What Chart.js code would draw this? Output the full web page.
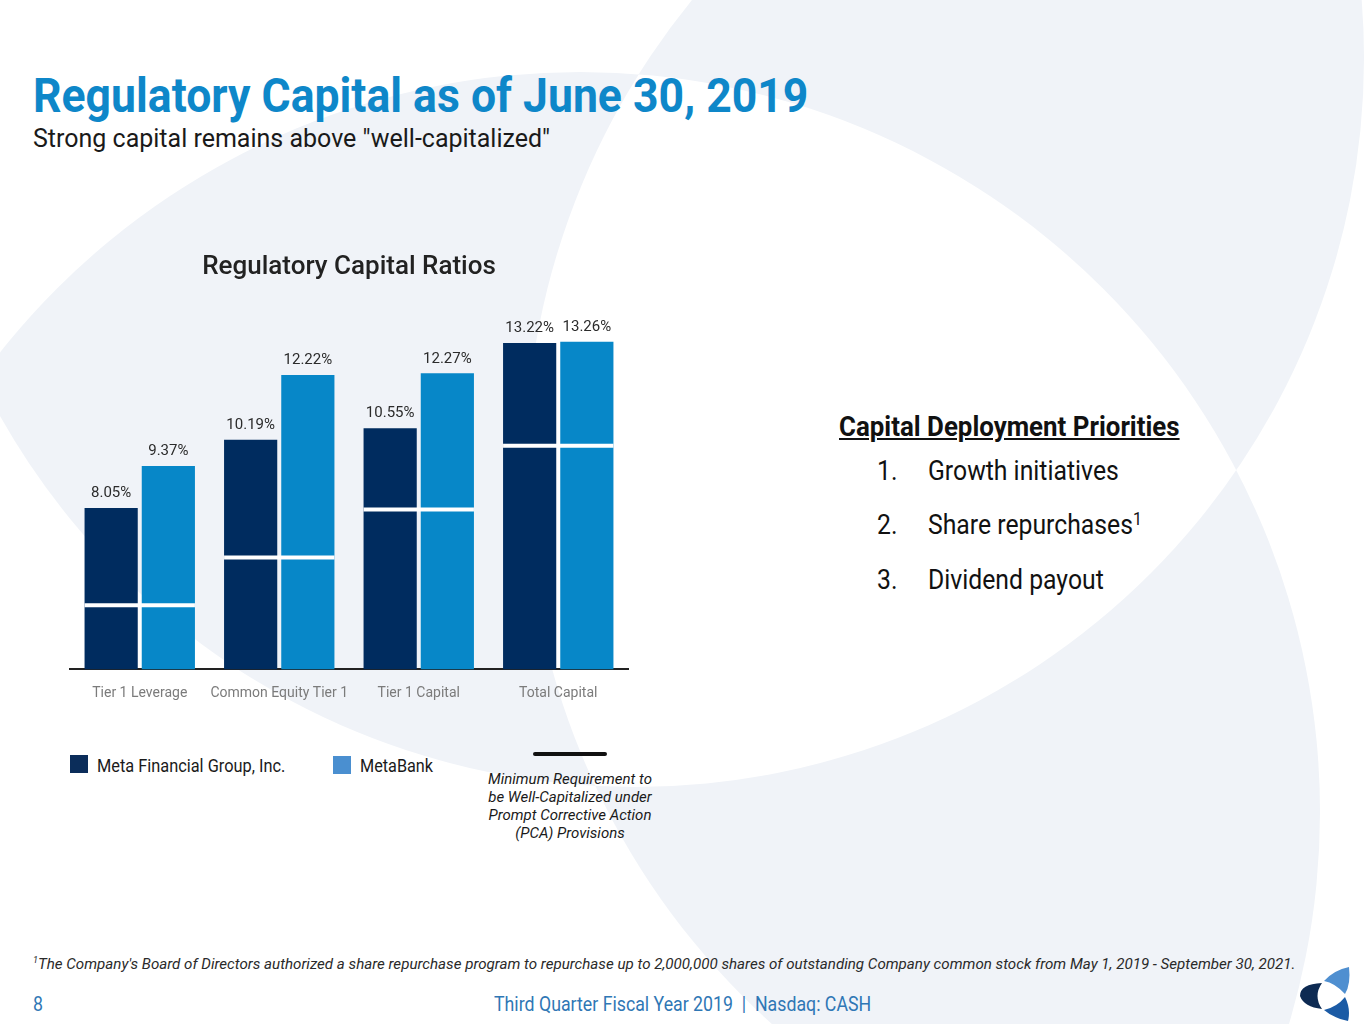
<!DOCTYPE html>
<html>
<head>
<meta charset="utf-8">
<script src="https://cdn.jsdelivr.net/npm/chart.js@4.4.1/dist/chart.umd.min.js"></script>
<style>
  body { margin: 0; width: 1365px; height: 1024px; overflow: hidden; background: #fff; position: relative; font-family: Roboto, "Liberation Sans", sans-serif; }
  #bg { position: absolute; left: 0; top: 0; }
  .t { position: absolute; white-space: nowrap; transform-origin: 0 0; margin: 0; }
  #title { left: 33px; top: 72px; font-size: 48px; line-height: 48px; font-weight: 700; color: #0e87c9; }
  #sub { left: 33px; top: 126px; font-size: 25px; line-height: 25px; color: #1a1a1a; }
  #chartBox { position: absolute; left: 60px; top: 236px; width: 580px; height: 489px; }
  .sw { position: absolute; width: 18px; height: 18px; }
  .leg { font-size: 18px; line-height: 18px; color: #1a1a1a; }
  #pcaLine { position: absolute; left: 533px; top: 752px; width: 74px; height: 4px; background: #111; border-radius: 2px; }
  #pca { position: absolute; left: 470px; top: 770px; width: 200px; text-align: center; font-size: 15px; line-height: 18px; font-style: italic; color: #1a1a1a; }
  #prioHead { left: 839px; top: 413px; font-size: 28px; line-height: 28px; font-weight: 700; text-decoration: underline; color: #111; }
  .num { font-size: 28px; line-height: 28px; color: #111; }
  .item { font-size: 28px; line-height: 28px; color: #111; }
  .item sup { font-size: 18px; line-height: 0; vertical-align: 9px; }
  #foot { left: 33px; top: 957px; font-size: 15px; line-height: 15px; font-style: italic; color: #2a2a2a; }
  #foot sup { font-size: 9px; line-height: 0; vertical-align: 6px; }
  #pg { left: 33px; top: 994px; font-size: 20px; line-height: 20px; color: #2f77b5; }
  #footer { left: 494px; top: 994px; font-size: 20px; line-height: 20px; color: #2f77b5; }
</style>
</head>
<body>
<svg id="bg" width="1365" height="1024">
  <defs>
    <clipPath id="k1"><circle cx="635" cy="58" r="729"/></clipPath>
    <clipPath id="k2"><circle cx="580" cy="812" r="740"/></clipPath>
  </defs>
  <g fill="#f0f3f8">
    <g clip-path="url(#k1)"><circle cx="580" cy="812" r="740"/><circle cx="1270" cy="470" r="745"/></g>
    <g clip-path="url(#k2)"><circle cx="1270" cy="470" r="745"/></g>
  </g>
  <g clip-path="url(#k1)"><g clip-path="url(#k2)"><circle cx="1270" cy="470" r="745" fill="#fff"/></g></g>
  <!-- logo -->
  <path d="M1322,983 Q1300,984 1300,996 Q1304,1007 1322,1009 Q1313,996 1322,983 Z" fill="#0d2a52"/>
  <path d="M1324,981 Q1334,970 1349,967 Q1351,984 1345,994 Q1335,983 1324,981 Z" fill="#4f8fd0"/>
  <path d="M1324,1010 Q1337,1007 1345,997 Q1351,1009 1348,1021 Q1333,1018 1324,1010 Z" fill="#1b5ba5"/>
</svg>

<div class="t" id="title">Regulatory Capital as of June 30, 2019</div>
<div class="t" id="sub">Strong capital remains above "well-capitalized"</div>

<div id="chartBox"><canvas id="capChart"></canvas></div>

<div class="sw" style="left:70px;top:755px;background:#0b2d5a"></div>
<div class="t leg" id="leg1" style="left:97px;top:757px">Meta Financial Group, Inc.</div>
<div class="sw" style="left:333px;top:756px;background:#4a8fd0"></div>
<div class="t leg" id="leg2" style="left:360px;top:757px">MetaBank</div>
<div id="pcaLine"></div>
<div id="pca">Minimum Requirement to<br>be Well-Capitalized under<br>Prompt Corrective Action<br>(PCA) Provisions</div>

<div class="t" id="prioHead">Capital Deployment Priorities</div>
<div class="t num" style="left:877px;top:457px">1.</div>
<div class="t item" id="it1" style="left:928px;top:457px">Growth initiatives</div>
<div class="t num" style="left:877px;top:511px">2.</div>
<div class="t item" id="it2" style="left:928px;top:511px">Share repurchases<sup>1</sup></div>
<div class="t num" style="left:877px;top:566px">3.</div>
<div class="t item" id="it3" style="left:928px;top:566px">Dividend payout</div>

<div class="t" id="foot"><sup>1</sup>The Company's Board of Directors authorized a share repurchase program to repurchase up to 2,000,000 shares of outstanding Company common stock from May 1, 2019 - September 30, 2021.</div>
<div class="t" id="pg">8</div>
<div class="t" id="footer">Third Quarter Fiscal Year 2019&nbsp;&nbsp;|&nbsp;&nbsp;Nasdaq: CASH</div>

<script>
// squeeze text to the widths of the condensed face in the slide
function fit(id, w) {
    const el = document.getElementById(id);
    const s = w / el.offsetWidth;
    el.style.transform = 'scaleX(' + s + ')';
    return s;
}
fit('title', 775);
fit('sub', 517);
fit('prioHead', 341);
const sItem = fit('it1', 191);
document.querySelectorAll('.num, .item').forEach(el => el.style.transform = 'scaleX(' + sItem + ')');
fit('leg1', 188);
fit('leg2', 73);
fit('foot', 1262);
const sFoot = fit('footer', 377);
document.getElementById('pg').style.transform = 'scaleX(' + sFoot + ')';

// data
const categories = ['Tier 1 Leverage', 'Common Equity Tier 1', 'Tier 1 Capital', 'Total Capital'];
const metaFinancial = [8.05, 10.19, 10.55, 13.22];
const metaBank = [9.37, 12.22, 12.27, 13.26];
const wellCapitalized = [5, 6.5, 8, 10];

// white minimum-requirement lines across each pair of bars
const pcaLines = {
    id: 'pcaLines',
    afterDatasetsDraw(chart) {
        const ctx = chart.ctx;
        const y = chart.scales.y;
        const a = chart.getDatasetMeta(0).data;
        const b = chart.getDatasetMeta(1).data;
        ctx.save();
        ctx.strokeStyle = '#ffffff';
        ctx.lineWidth = 4;
        wellCapitalized.forEach((v, i) => {
            const py = y.getPixelForValue(v);
            ctx.beginPath();
            ctx.moveTo(a[i].x - a[i].width / 2, py);
            ctx.lineTo(b[i].x + b[i].width / 2, py);
            ctx.stroke();
        });
        ctx.restore();
    }
};

const barLabels = {
    id: 'barLabels',
    afterDatasetsDraw(chart) {
        const ctx = chart.ctx;
        ctx.save();
        ctx.font = '15px Roboto';
        ctx.fillStyle = '#2b2b2b';
        ctx.textAlign = 'center';
        ctx.textBaseline = 'bottom';
        chart.data.datasets.forEach((ds, d) => {
            chart.getDatasetMeta(d).data.forEach((bar, i) => {
                ctx.fillText(ds.data[i].toFixed(2) + '%', bar.x, bar.y - 7);
            });
        });
        ctx.restore();
    }
};

Chart.defaults.font.family = 'Roboto';

const ctx = document.getElementById('capChart').getContext('2d');
const capChart = new Chart(ctx, {
    type: 'bar',
    data: {
        labels: categories,
        datasets: [{
            label: 'Meta Financial Group, Inc.',
            data: metaFinancial,
            backgroundColor: '#002c5f',
            categoryPercentage: 0.82,
            barPercentage: 0.93
        }, {
            label: 'MetaBank',
            data: metaBank,
            backgroundColor: '#0787c8',
            categoryPercentage: 0.82,
            barPercentage: 0.93
        }]
    },
    options: {
        responsive: true,
        maintainAspectRatio: false,
        animation: false,
        layout: { padding: { left: 10, right: 12, top: 0, bottom: 7 } },
        plugins: {
            legend: { display: false },
            tooltip: { enabled: false },
            title: {
                display: true,
                text: 'Regulatory Capital Ratios',
                color: '#222',
                font: { size: 26, weight: '500' },
                padding: { top: 16, bottom: 3 }
            }
        },
        scales: {
            x: {
                grid: { display: false, drawTicks: false },
                border: { display: true, color: '#222', width: 2 },
                ticks: { color: '#7b7b7b', font: { size: 14 }, padding: 16, maxRotation: 0, minRotation: 0, autoSkip: false }
            },
            y: {
                display: false,
                min: 3,
                max: 15
            }
        }
    },
    plugins: [pcaLines, barLabels]
});
</script>
</body>
</html>
